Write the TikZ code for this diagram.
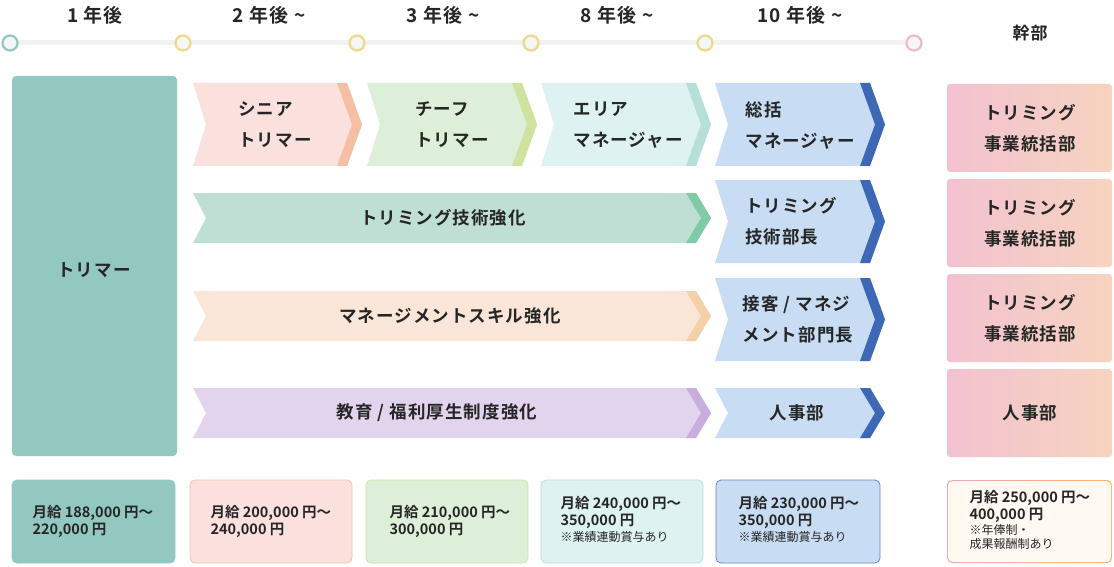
\documentclass[tikz,border=0pt]{standalone}
\usepackage{fontspec}
\setmainfont{Noto Sans CJK JP}[BoldFont={* Bold}]
\newfontfamily\jpb{Noto Sans CJK JP Bold}[LetterSpace=6]
\newfontfamily\jpbn{Noto Sans CJK JP Bold}
\newfontfamily\jpr{Noto Sans CJK JP}
\usetikzlibrary{positioning}
\definecolor{teal1}{HTML}{92C8C0}
\definecolor{pk}{HTML}{FBE1DD}\definecolor{pks}{HTML}{F4BFA5}
\definecolor{gr}{HTML}{DDEFD8}\definecolor{grs}{HTML}{CFE2A0}
\definecolor{cy}{HTML}{DEF2F1}\definecolor{cys}{HTML}{B5DFD9}
\definecolor{bl}{HTML}{C8DDF3}\definecolor{bls}{HTML}{3E67B5}
\definecolor{mg}{HTML}{C0DFD4}\definecolor{mgs}{HTML}{7FCBA5}
\definecolor{or}{HTML}{F9E6D8}\definecolor{ors}{HTML}{F4D0A8}
\definecolor{pu}{HTML}{E2D4EC}\definecolor{pus}{HTML}{C7AEDD}
\definecolor{yel}{HTML}{EED88A}\definecolor{rp}{HTML}{EDBBC8}
\definecolor{exL}{HTML}{F2C2D0}\definecolor{exR}{HTML}{F7D3C0}
\newcommand\chev[6]{%
 \fill[#5] (#1,#3) -- ({#2-15},#3) -- (#2,{(#3+#4)/2}) -- ({#2-15},#4) -- (#1,#4) -- ({#1+13},{(#3+#4)/2}) -- cycle;
 \fill[#6] ({#2-25},#3) -- ({#2-15},#3) -- (#2,{(#3+#4)/2}) -- ({#2-15},#4) -- ({#2-25},#4) -- ({#2-10},{(#3+#4)/2}) -- cycle;}
\newcommand\nt{\jpr\fontsize{12}{14}\selectfont}
\tikzset{lbl/.style={font=\jpb\fontsize{17.5}{31}\selectfont,align=left,text=black!85},
 hd/.style={font=\jpb\fontsize{19}{22}\selectfont,text=black!85},
 sal/.style={font=\jpbn\fontsize{14.5}{17}\selectfont,align=left,text=black!85,anchor=west},
 dot/.style={circle,draw=#1,line width=2.2pt,fill=black!4,minimum size=15pt,inner sep=0pt},
 sbox/.style={rounded corners=5pt,line width=0.8pt}}
\begin{document}
\begin{tikzpicture}[x=1pt,y=-1pt]
\useasboundingbox (0,0) rectangle (1114,567);
% timeline
\draw[black!5,line width=5pt] (10,43) -- (914,43);
\node[dot=teal1] (d0) at (10,43) {};
\foreach \x/\n in {183/1,357/2,531/3,705/4}{\node[dot=yel] (d\n) at (\x,43) {};}
\node[dot=rp] (d5) at (914,43) {};
\node[hd] (h1) at (95,15) {1 年後};
\node[hd] (h2) at (269,15) {2 年後 \textasciitilde};
\node[hd] (h3) at (443,15) {3 年後 \textasciitilde};
\node[hd] (h4) at (617,15) {8 年後 \textasciitilde};
\node[hd] (h5) at (800,15) {10 年後 \textasciitilde};
\node[hd,font=\jpb\fontsize{17}{20}\selectfont] (h6) at (1030,33) {幹部};
% left
\fill[teal1,rounded corners=4pt] (12,76) rectangle (177,456);
\node[lbl] (tr) at (94,270) {トリマー};
% row 1
\chev{193}{362}{83}{166}{pk}{pks}
\chev{367}{537}{83}{166}{gr}{grs}
\chev{541}{711}{83}{166}{cy}{cys}
\chev{715}{885}{83}{166}{bl}{bls}
\node[lbl] (a1) at (275,125) {シニア\\トリマー};
\node[lbl] (a2) at (452,125) {チーフ\\トリマー};
\node[lbl] (a3) at (628,125) {エリア\\マネージャー};
\node[lbl] (a4) at (800,125) {総括\\マネージャー};
% row 2
\chev{193}{711}{193}{243}{mg}{mgs}
\chev{715}{885}{180}{263}{bl}{bls}
\node[lbl] (b1) at (443,218) {トリミング技術強化};
\node[lbl] (b2) at (791,221) {トリミング\\技術部長};
% row 3
\chev{193}{711}{291}{341}{or}{ors}
\chev{715}{885}{278}{361}{bl}{bls}
\node[lbl] (c1) at (450,316) {マネージメントスキル強化};
\node[lbl] (c2) at (798,319) {接客 / マネジ\\メント部門長};
% row 4
\chev{193}{711}{388}{438}{pu}{pus}
\chev{715}{885}{388}{438}{bl}{bls}
\node[lbl] (e1) at (437,413) {教育 / 福利厚生制度強化};
\node[lbl] (e2) at (797,413) {人事部};
% right column
\foreach \ya/\yb/\t [count=\i] in {84/172/{トリミング\\事業統括部},179/267/{トリミング\\事業統括部},274/362/{トリミング\\事業統括部},369/457/{人事部}}{
 \shade[left color=exL,right color=exR,rounded corners=3pt] (947,\ya) rectangle (1112,\yb);
 \node[lbl,align=center] (r\i) at (1030,{(\ya+\yb)/2}) {\t};}
% salary
\filldraw[sbox,fill=teal1,draw=teal1] (12,480) rectangle (175,563);
\node[sal] (s1) at (29,521) {月給 188,000 円〜\\220,000 円};
\filldraw[sbox,fill=pk,draw=pks] (190,480) rectangle (352,563);
\node[sal] (s2) at (207,521) {月給 200,000 円〜\\240,000 円};
\filldraw[sbox,fill=gr,draw=grs] (366,480) rectangle (528,563);
\node[sal] (s3) at (386,521) {月給 210,000 円〜\\300,000 円};
\filldraw[sbox,fill=cy,draw=cys] (541,480) rectangle (703,563);
\node[sal] (s4) at (557,519) {月給 240,000 円〜\\350,000 円\\[-1pt]\nt ※業績連動賞与あり};
\filldraw[sbox,fill=bl,draw=bls!80] (716,480) rectangle (880,563);
\node[sal] (s5) at (735,519) {月給 230,000 円〜\\350,000 円\\[-1pt]\nt ※業績連動賞与あり};
\shade[left color=rp!90!red,right color=orange!60,rounded corners=5pt] (947,480) rectangle (1112,563);
\fill[fill=orange!5,rounded corners=4.5pt] (948,481) rectangle (1111,562);
\node[sal] (s6) at (966,520) {月給 250,000 円〜\\400,000 円\\[-2pt]\nt ※年俸制・\\[-3pt]\nt 成果報酬制あり};
\end{tikzpicture}
\end{document}
